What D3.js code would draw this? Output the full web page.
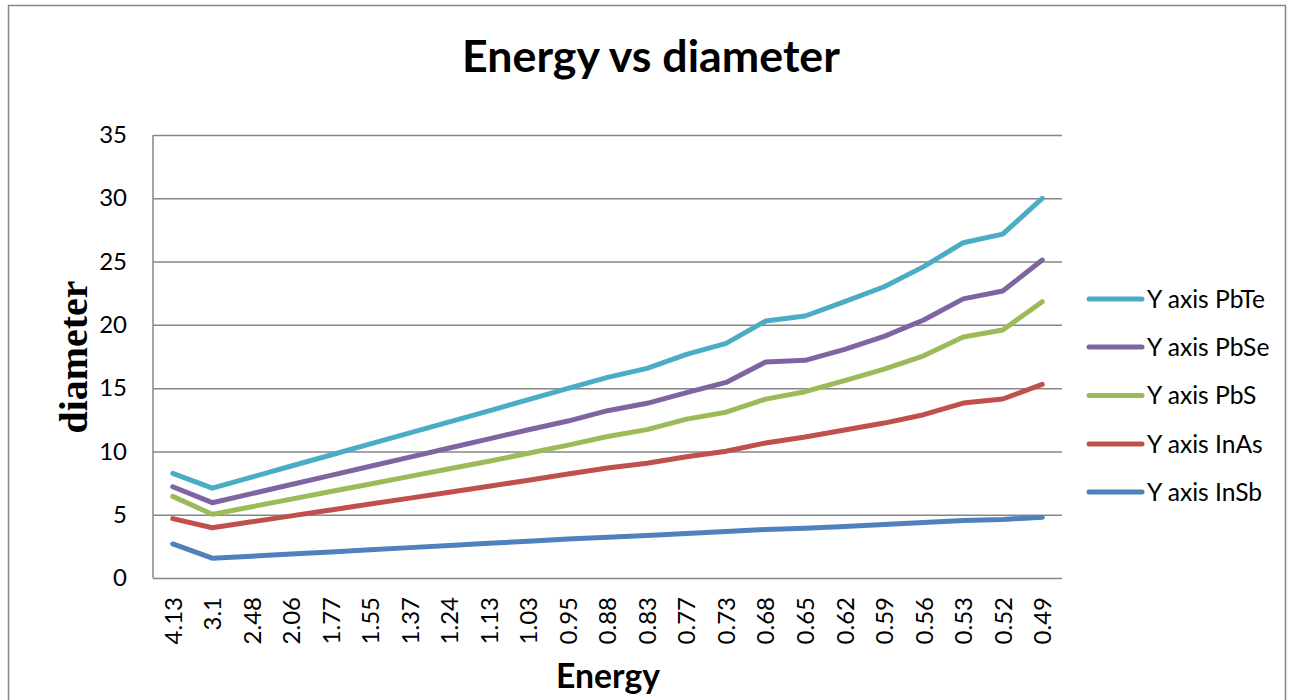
<!DOCTYPE html>
<html>
<head>
<meta charset="utf-8">
<script src="https://cdn.jsdelivr.net/npm/d3@7"></script>
<style>
  html, body { margin: 0; padding: 0; background: #fff; }
  svg { display: block; }
</style>
</head>
<body>
<svg id="chart" width="1294" height="700"></svg>
<script>
// Photon energy (eV) categories along the x axis
const energies = ["4.13","3.1","2.48","2.06","1.77","1.55","1.37","1.24","1.13","1.03","0.95","0.88","0.83","0.77","0.73","0.68","0.65","0.62","0.59","0.56","0.53","0.52","0.49"];

// Nanocrystal diameter per material
const pbte = [8.27, 7.1, 7.97, 8.85, 9.72, 10.6, 11.47, 12.34, 13.2, 14.1, 14.98, 15.85, 16.56, 17.67, 18.54, 20.3, 20.7, 21.83, 23.01, 24.6, 26.49, 27.17, 30.0];
const pbse = [7.21, 5.95, 6.67, 7.39, 8.11, 8.83, 9.55, 10.27, 10.99, 11.71, 12.4, 13.22, 13.8, 14.65, 15.45, 17.06, 17.2, 18.07, 19.09, 20.38, 22.05, 22.67, 25.12];
const pbs  = [6.45, 5.03, 5.63, 6.23, 6.83, 7.43, 8.03, 8.63, 9.23, 9.85, 10.5, 11.18, 11.72, 12.55, 13.1, 14.13, 14.72, 15.6, 16.5, 17.55, 19.04, 19.59, 21.83];
const inas = [4.69, 3.97, 4.44, 4.91, 5.38, 5.84, 6.31, 6.78, 7.25, 7.72, 8.21, 8.69, 9.06, 9.58, 10.01, 10.67, 11.14, 11.69, 12.24, 12.9, 13.82, 14.14, 15.3];
const insb = [2.69, 1.57, 1.72, 1.89, 2.06, 2.23, 2.4, 2.57, 2.74, 2.91, 3.08, 3.22, 3.36, 3.52, 3.68, 3.83, 3.94, 4.06, 4.22, 4.38, 4.55, 4.63, 4.79];

const seriesNames = ["Y axis PbTe", "Y axis PbSe", "Y axis PbS", "Y axis InAs", "Y axis InSb"];
const seriesValues = [pbte, pbse, pbs, inas, insb];
const seriesColors = ["#4bacc6", "#8064a2", "#9bbb59", "#c0504d", "#4f81bd"];

const yTicks = [0, 5, 10, 15, 20, 25, 30, 35];

const svg = d3.select("#chart");
const sans = "Lato, 'Open Sans', sans-serif";

// Outer chart frame
svg.append("rect")
  .attr("x", 8.5).attr("y", 5.5)
  .attr("width", 1277).attr("height", 710)
  .attr("fill", "#fff")
  .attr("stroke", "#868686").attr("stroke-width", 1.5);

const plot = { left: 153, right: 1062, top: 135, bottom: 578 };

const x = d3.scalePoint()
  .domain(energies)
  .range([plot.left, plot.right])
  .padding(0.5);

const y = d3.scaleLinear()
  .domain([0, 35])
  .range([plot.bottom, plot.top]);

// Horizontal gridlines + y axis labels
const yAxis = d3.axisLeft(y)
  .tickValues(yTicks)
  .tickSize(-(plot.right - plot.left))
  .tickPadding(26)
  .tickFormat(d3.format("d"));

const gy = svg.append("g")
  .attr("transform", `translate(${plot.left},0)`)
  .call(yAxis);
gy.select(".domain").remove();
gy.selectAll(".tick line").attr("stroke", "#868686").attr("stroke-width", 1.5);
gy.selectAll(".tick text")
  .attr("fill", "#000")
  .style("font-family", sans)
  .style("font-size", "24px");

// Vertical axis line
svg.append("line")
  .attr("x1", plot.left).attr("x2", plot.left)
  .attr("y1", plot.top).attr("y2", plot.bottom)
  .attr("stroke", "#868686").attr("stroke-width", 1.5);

// Category axis with rotated labels
const xAxis = d3.axisBottom(x).tickSize(0).tickPadding(0);
const gx = svg.append("g")
  .attr("transform", `translate(0,${plot.bottom})`)
  .call(xAxis);
gx.select(".domain").remove();
gx.selectAll(".tick text")
  .attr("fill", "#000")
  .style("font-family", sans)
  .style("font-size", "24px")
  .attr("text-anchor", "end")
  .attr("dy", "0.35em")
  .attr("transform", "translate(0,19) rotate(-90)");

// Lines
const line = d3.line()
  .x((d, i) => x(energies[i]))
  .y(d => y(d));

svg.append("g")
  .selectAll("path")
  .data(seriesValues)
  .join("path")
  .attr("d", d => line(d))
  .attr("fill", "none")
  .attr("stroke", (d, i) => seriesColors[i])
  .attr("stroke-width", 5)
  .attr("stroke-linecap", "round")
  .attr("stroke-linejoin", "round");

// Fit a text element to a given width by adjusting font size
function fitWidth(sel, target) {
  const n = sel.node();
  const fs = parseFloat(sel.style("font-size"));
  const w = n.getComputedTextLength();
  const size = fs * target / w;
  sel.style("font-size", size.toFixed(2) + "px");
  return size;
}

// Title
const title = svg.append("text")
  .attr("x", 651).attr("y", 72)
  .attr("text-anchor", "middle")
  .style("font-family", sans)
  .style("font-weight", "bold")
  .style("font-size", "42px")
  .text("Energy vs diameter");
fitWidth(title, 378);

// X axis title
const xTitle = svg.append("text")
  .attr("x", 608).attr("y", 688)
  .attr("text-anchor", "middle")
  .style("font-family", sans)
  .style("font-weight", "bold")
  .style("font-size", "34px")
  .text("Energy");
fitWidth(xTitle, 104);

// Y axis title
const yTitle = svg.append("text")
  .attr("transform", "translate(87,357) rotate(-90)")
  .attr("text-anchor", "middle")
  .style("font-family", "'Liberation Serif', 'Times New Roman', serif")
  .style("font-weight", "bold")
  .style("font-size", "38px")
  .text("diameter");
fitWidth(yTitle, 153);

// Legend
const legend = svg.append("g");
const legendY = [299, 347, 395.5, 444, 492];
let legendSize = null;
seriesNames.forEach((name, i) => {
  const g = legend.append("g").attr("transform", `translate(0,${legendY[i]})`);
  g.append("line")
    .attr("x1", 1089).attr("x2", 1142)
    .attr("y1", 0).attr("y2", 0)
    .attr("stroke", seriesColors[i])
    .attr("stroke-width", 5)
    .attr("stroke-linecap", "round");
  const t = g.append("text")
    .attr("x", 1147).attr("y", 0)
    .attr("dy", "0.36em")
    .style("font-family", sans)
    .style("font-size", legendSize ? legendSize + "px" : "22px")
    .attr("fill", "#000")
    .text(name);
  if (legendSize === null) legendSize = fitWidth(t, 118).toFixed(2);
});
</script>
</body>
</html>
